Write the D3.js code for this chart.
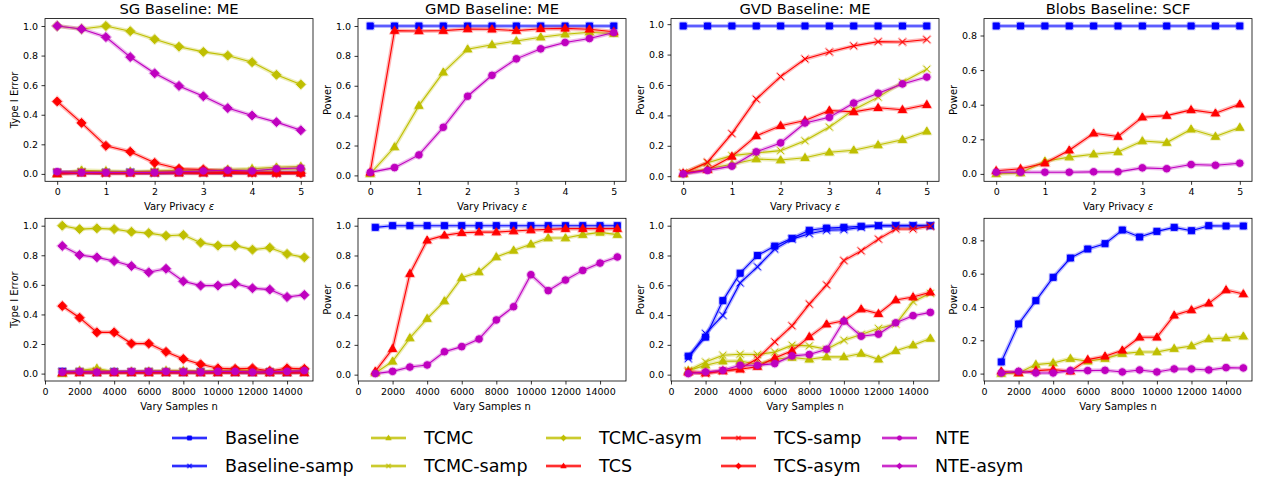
<!DOCTYPE html>
<html><head><meta charset="utf-8">
<script src="https://cdn.jsdelivr.net/npm/d3@7/dist/d3.min.js"></script>
<style>body{margin:0;background:#fff}svg{font-family:"DejaVu Sans",sans-serif}</style>
</head><body><svg id="chart" width="1261" height="480"></svg>
<script>
// ---------- x values and ticks ----------
const epsX = [0,0.5,1,1.5,2,2.5,3,3.5,4,4.5,5];
const nX = [1000,2000,3000,4000,5000,6000,7000,8000,9000,10000,11000,12000,13000,14000,15000];
const epsTicks = [0,1,2,3,4,5];
const nTicks = [0,2000,4000,6000,8000,10000,12000,14000];
const unitTicks = [0,0.2,0.4,0.6,0.8,1.0];
const blobTicks = [0,0.2,0.4,0.6,0.8];
const titles = ["SG Baseline: ME","GMD Baseline: ME","GVD Baseline: ME","Blobs Baseline: SCF"];
const yLabels = ["Type I Error","Power","Power","Power"];

// ---------- SG, vary privacy ----------
const sgEpsBaseline     = [0.01,0.01,0.01,0.01,0.01,0.01,0.01,0.01,0.01,0.01,0.01];
const sgEpsBaselineSamp = [0.005,0.01,0.005,0.01,0.005,0.01,0.01,0.005,0.01,0.005,0.01];
const sgEpsTCMC         = [0.0,0.025,0.02,0.015,0.02,0.025,0.025,0.03,0.035,0.045,0.05];
const sgEpsTCMCSamp     = [0.01,0.015,0.01,0.01,0.015,0.02,0.02,0.02,0.02,0.03,0.035];
const sgEpsTCMCAsym     = [1.0,0.98,1.0,0.965,0.91,0.86,0.825,0.80,0.755,0.67,0.605];
const sgEpsTCS          = [0.0,0.005,0.005,0.005,0.005,0.005,0.005,0.005,0.005,0.005,0.005];
const sgEpsTCSSamp      = [0.01,0.01,0.005,0.005,0.01,0.01,0.005,0.01,0.005,0.005,0.01];
const sgEpsTCSAsym      = [0.49,0.345,0.19,0.15,0.075,0.035,0.03,0.018,0.01,0.008,0.005];
const sgEpsNTE          = [0.015,0.01,0.01,0.01,0.01,0.015,0.02,0.025,0.02,0.035,0.04];
const sgEpsNTEAsym      = [1.0,0.98,0.925,0.79,0.68,0.595,0.525,0.445,0.395,0.35,0.295];

// ---------- GMD, vary privacy ----------
const gmdEpsBaseline = [1,1,1,1,1,1,1,1,1,1,1];
const gmdEpsTCMC     = [0.01,0.19,0.467,0.69,0.845,0.874,0.90,0.925,0.945,0.958,0.948];
const gmdEpsTCS      = [0.02,0.969,0.967,0.969,0.98,0.978,0.969,0.982,0.984,0.978,0.962];
const gmdEpsNTE      = [0.02,0.052,0.137,0.322,0.53,0.67,0.78,0.847,0.89,0.916,0.956];

// ---------- GVD, vary privacy ----------
const gvdEpsBaseline = [0.988,0.988,0.988,0.988,0.988,0.988,0.988,0.988,0.988,0.988,0.988];
const gvdEpsTCMC     = [0.015,0.048,0.078,0.113,0.106,0.121,0.157,0.171,0.205,0.24,0.295];
const gvdEpsTCMCSamp = [0.02,0.088,0.135,0.153,0.168,0.233,0.323,0.437,0.52,0.618,0.704];
const gvdEpsTCS      = [0.02,0.042,0.13,0.265,0.332,0.366,0.432,0.423,0.45,0.437,0.47];
const gvdEpsTCSSamp  = [0.02,0.092,0.28,0.507,0.655,0.771,0.817,0.857,0.885,0.883,0.899];
const gvdEpsNTE      = [0.015,0.038,0.066,0.16,0.219,0.35,0.387,0.481,0.546,0.607,0.652];

// ---------- Blobs, vary privacy ----------
const blobsEpsBaseline = [0.855,0.855,0.855,0.855,0.855,0.855,0.855,0.855,0.855,0.855,0.855];
const blobsEpsTCMC     = [0.0,0.005,0.073,0.097,0.114,0.127,0.19,0.181,0.258,0.216,0.268];
const blobsEpsTCS      = [0.018,0.03,0.062,0.137,0.235,0.216,0.328,0.337,0.37,0.351,0.403];
const blobsEpsNTE      = [0.01,0.01,0.01,0.01,0.012,0.012,0.035,0.03,0.054,0.05,0.062];

// ---------- SG, vary samples ----------
const sgNBaseline     = [0.015,0.012,0.01,0.012,0.01,0.012,0.01,0.01,0.012,0.01,0.01,0.01,0.01,0.008,0.012];
const sgNBaselineSamp = [0.01,0.01,0.008,0.01,0.01,0.008,0.01,0.01,0.008,0.01,0.01,0.008,0.01,0.01,0.01];
const sgNTCMC         = [0.0,0.02,0.035,0.01,0.015,0.015,0.02,0.02,0.015,0.02,0.025,0.02,0.015,0.02,0.025];
const sgNTCMCSamp     = [0.005,0.015,0.02,0.01,0.01,0.015,0.015,0.015,0.01,0.015,0.02,0.015,0.01,0.015,0.02];
const sgNTCMCAsym     = [1.0,0.977,0.982,0.977,0.959,0.95,0.932,0.937,0.885,0.865,0.865,0.838,0.851,0.809,0.786];
const sgNTCS          = [0.005,0.005,0.005,0.005,0.005,0.005,0.005,0.005,0.005,0.005,0.005,0.005,0.005,0.005,0.005];
const sgNTCSSamp      = [0.01,0.008,0.01,0.008,0.01,0.01,0.008,0.01,0.008,0.01,0.01,0.01,0.008,0.01,0.01];
const sgNTCSAsym      = [0.457,0.378,0.279,0.279,0.203,0.203,0.147,0.099,0.063,0.036,0.032,0.036,0.018,0.036,0.032];
const sgNNTE          = [0.01,0.015,0.01,0.012,0.015,0.015,0.015,0.012,0.01,0.015,0.015,0.01,0.012,0.015,0.02];
const sgNNTEAsym      = [0.863,0.802,0.786,0.761,0.727,0.685,0.709,0.624,0.595,0.595,0.608,0.577,0.568,0.518,0.532];

// ---------- GMD, vary samples ----------
const gmdNBaseline = [0.989,1,1,1,1,1,1,1,1,1,1,1,1,1,1];
const gmdNTCMC     = [0.011,0.089,0.246,0.376,0.494,0.651,0.689,0.79,0.834,0.875,0.917,0.917,0.94,0.955,0.94];
const gmdNTCS      = [0.022,0.174,0.678,0.902,0.935,0.953,0.957,0.957,0.964,0.971,0.975,0.98,0.98,0.98,0.98];
const gmdNNTE      = [0.007,0.022,0.051,0.065,0.154,0.188,0.239,0.367,0.456,0.671,0.564,0.635,0.70,0.749,0.79];

// ---------- GVD, vary samples ----------
const gvdNBaseline     = [0.124,0.252,0.497,0.681,0.80,0.863,0.915,0.969,0.984,0.989,0.996,1,1,1,1];
const gvdNBaselineSamp = [0.108,0.276,0.398,0.616,0.724,0.843,0.91,0.946,0.969,0.973,0.989,1,1,1,1];
const gvdNTCMC         = [0.027,0.063,0.09,0.092,0.07,0.103,0.115,0.103,0.119,0.119,0.142,0.103,0.16,0.198,0.243];
const gvdNTCMCSamp     = [0.027,0.085,0.13,0.137,0.135,0.151,0.198,0.193,0.171,0.231,0.27,0.31,0.339,0.49,0.546];
const gvdNTCS          = [0.018,0.011,0.025,0.036,0.054,0.112,0.16,0.254,0.339,0.362,0.44,0.409,0.501,0.521,0.553];
const gvdNTCSSamp      = [0.018,0.007,0.025,0.04,0.108,0.22,0.328,0.474,0.602,0.766,0.831,0.91,0.978,0.978,0.996];
const gvdNNTE          = [0.007,0.018,0.029,0.063,0.063,0.074,0.126,0.135,0.171,0.36,0.258,0.272,0.348,0.396,0.418];

// ---------- Blobs, vary samples ----------
const blobsNBaseline = [0.07,0.298,0.438,0.578,0.694,0.748,0.78,0.862,0.82,0.854,0.878,0.858,0.888,0.886,0.886];
const blobsNTCMC     = [0.0,0.004,0.054,0.064,0.09,0.074,0.09,0.12,0.13,0.13,0.15,0.166,0.208,0.214,0.224];
const blobsNTCS      = [0.014,0.004,0.018,0.024,0.014,0.084,0.104,0.14,0.218,0.218,0.35,0.382,0.422,0.502,0.478];
const blobsNNTE      = [0.004,0.014,0.004,0.004,0.018,0.018,0.02,0.01,0.022,0.01,0.028,0.028,0.022,0.036,0.034];

// ---------- series styles ----------
const BLUE="#0000ff", YEL="#bfbf00", RED="#ff0000", MAG="#bf00bf";
const seriesNames = ["Baseline","Baseline-samp","TCMC","TCMC-samp","TCMC-asym","TCS","TCS-samp","TCS-asym","NTE","NTE-asym"];
const seriesColors = [BLUE,BLUE,YEL,YEL,YEL,RED,RED,RED,MAG,MAG];
const seriesMarkers = ["square","x","tri","x","diamond","tri","x","diamond","circle","diamond"];

const panels = [
  {row:0,col:0,xs:epsX,series:{"Baseline":sgEpsBaseline,"Baseline-samp":sgEpsBaselineSamp,"TCMC":sgEpsTCMC,"TCMC-samp":sgEpsTCMCSamp,"TCMC-asym":sgEpsTCMCAsym,"TCS":sgEpsTCS,"TCS-samp":sgEpsTCSSamp,"TCS-asym":sgEpsTCSAsym,"NTE":sgEpsNTE,"NTE-asym":sgEpsNTEAsym}},
  {row:0,col:1,xs:epsX,series:{"Baseline":gmdEpsBaseline,"TCMC":gmdEpsTCMC,"TCS":gmdEpsTCS,"NTE":gmdEpsNTE}},
  {row:0,col:2,xs:epsX,series:{"Baseline":gvdEpsBaseline,"TCMC":gvdEpsTCMC,"TCMC-samp":gvdEpsTCMCSamp,"TCS":gvdEpsTCS,"TCS-samp":gvdEpsTCSSamp,"NTE":gvdEpsNTE}},
  {row:0,col:3,xs:epsX,series:{"Baseline":blobsEpsBaseline,"TCMC":blobsEpsTCMC,"TCS":blobsEpsTCS,"NTE":blobsEpsNTE}},
  {row:1,col:0,xs:nX,series:{"Baseline":sgNBaseline,"Baseline-samp":sgNBaselineSamp,"TCMC":sgNTCMC,"TCMC-samp":sgNTCMCSamp,"TCMC-asym":sgNTCMCAsym,"TCS":sgNTCS,"TCS-samp":sgNTCSSamp,"TCS-asym":sgNTCSAsym,"NTE":sgNNTE,"NTE-asym":sgNNTEAsym}},
  {row:1,col:1,xs:nX,series:{"Baseline":gmdNBaseline,"TCMC":gmdNTCMC,"TCS":gmdNTCS,"NTE":gmdNNTE}},
  {row:1,col:2,xs:nX,series:{"Baseline":gvdNBaseline,"Baseline-samp":gvdNBaselineSamp,"TCMC":gvdNTCMC,"TCMC-samp":gvdNTCMCSamp,"TCS":gvdNTCS,"TCS-samp":gvdNTCSSamp,"NTE":gvdNNTE}},
  {row:1,col:3,xs:nX,series:{"Baseline":blobsNBaseline,"TCMC":blobsNTCMC,"TCS":blobsNTCS,"NTE":blobsNNTE}}
];

// ---------- layout ----------
const svg = d3.select("#chart");
const W = 268;
const lefts = [45,358,671,984];
const tops = [18.6,218.3];
const H = 162.7;

function markerPath(kind, s){
  if(kind==="square") return d3.symbol(d3.symbolSquare, 36*s*s)();
  if(kind==="circle") return d3.symbol(d3.symbolCircle, 34*s*s)();
  if(kind==="tri"){ const r=4.2*s; return `M0,${-r}L${r*0.95},${r*0.65}L${-r*0.95},${r*0.65}Z`; }
  if(kind==="diamond"){ const r=4.4*s; return `M0,${-r}L${r},0L0,${r}L${-r},0Z`; }
  const r=3.2*s; return `M${-r},${-r}L${r},${r}M${-r},${r}L${r},${-r}`;
}
function drawMarker(g, kind, color, x, y, s){
  const isX = kind==="x";
  g.append("path").attr("d",markerPath(kind,s*1.3)).attr("transform",`translate(${x},${y})`)
    .attr("fill",isX?"none":color).attr("stroke",color).attr("stroke-width",isX?2.2:1).attr("opacity",0.25);
  g.append("path").attr("d",markerPath(kind,s)).attr("transform",`translate(${x},${y})`)
    .attr("fill",isX?"none":color).attr("stroke",color).attr("stroke-width",1);
}

panels.forEach(p=>{
  const g = svg.append("g").attr("transform",`translate(${lefts[p.col]},${tops[p.row]})`);
  const isEps = p.row===0;
  const x = d3.scaleLinear().domain(isEps?[-0.25,5.25]:[0,15500]).range([0,W]);
  const all = Object.values(p.series).flat();
  const mn = d3.min(all), mx = d3.max(all), pad=(mx-mn)*0.05;
  const y = d3.scaleLinear().domain([mn-pad,mx+pad]).range([H,0]);
  const yt = p.col===3?blobTicks:unitTicks;

  const ya = g.append("g").call(d3.axisLeft(y).tickValues(yt).tickFormat(d3.format(".1f")).tickSize(3.5).tickPadding(3.5));
  const xa = g.append("g").attr("transform",`translate(0,${H})`).call(d3.axisBottom(x).tickValues(isEps?epsTicks:nTicks).tickFormat(d3.format("d")).tickSize(3.5).tickPadding(3.5));
  [ya,xa].forEach(a=>{a.select(".domain").remove();a.selectAll("line").attr("stroke","#000").attr("stroke-width",0.8);
    a.selectAll("text").attr("font-size",9.5).attr("font-family","DejaVu Sans").attr("fill","#000");});

  const clipId = `clip${p.row}${p.col}`;
  g.append("clipPath").attr("id",clipId).append("rect").attr("x",-6).attr("y",-6).attr("width",W+12).attr("height",H+12);
  const plot = g.append("g");
  const line = d3.line().x(d=>x(d[0])).y(d=>y(d[1]));
  seriesNames.forEach((name,i)=>{
    const vals = p.series[name]; if(!vals) return;
    const pts = p.xs.map((xv,j)=>[xv,vals[j]]);
    plot.append("path").attr("d",line(pts)).attr("fill","none").attr("stroke",seriesColors[i]).attr("stroke-width",4).attr("opacity",0.28);
    plot.append("path").attr("d",line(pts)).attr("fill","none").attr("stroke",seriesColors[i]).attr("stroke-width",1.1);
    pts.forEach(pt=>drawMarker(plot, seriesMarkers[i], seriesColors[i], x(pt[0]), y(pt[1]), 1));
  });

  g.append("rect").attr("width",W).attr("height",H).attr("fill","none").attr("stroke","#000").attr("stroke-width",0.8);

  if(p.row===0) g.append("text").attr("x",W/2).attr("y",-5).attr("text-anchor","middle").attr("font-size",14.7).attr("fill","#000").text(titles[p.col]);
  const xl = g.append("text").attr("x",W/2).attr("y",H+29).attr("text-anchor","middle").attr("font-size",10).attr("fill","#000");
  if(isEps){ xl.append("tspan").text("Vary Privacy "); xl.append("tspan").attr("font-style","italic").text("ε"); }
  else xl.text("Vary Samples n");
  g.append("text").attr("transform",`translate(-27,${H/2}) rotate(-90)`).attr("text-anchor","middle").attr("font-size",10).attr("fill","#000").text(yLabels[p.col]);
});

// ---------- legend ----------
const legCols = [172,371,546,721,882];
const legRows = [438,466];
const leg = svg.append("g");
seriesNames.forEach((name,i)=>{
  const cx = legCols[Math.floor(i/2)], cy = legRows[i%2];
  const c = seriesColors[i];
  leg.append("line").attr("x1",cx).attr("x2",cx+35).attr("y1",cy).attr("y2",cy).attr("stroke",c).attr("stroke-width",4).attr("opacity",0.28);
  leg.append("line").attr("x1",cx).attr("x2",cx+35).attr("y1",cy).attr("y2",cy).attr("stroke",c).attr("stroke-width",1.3);
  drawMarker(leg, seriesMarkers[i], c, cx+17.5, cy, 0.6);
  leg.append("text").attr("x",cx+53).attr("y",cy).attr("dy","0.35em").attr("font-size",17.5).attr("fill","#000").text(name);
});
</script></body></html>
